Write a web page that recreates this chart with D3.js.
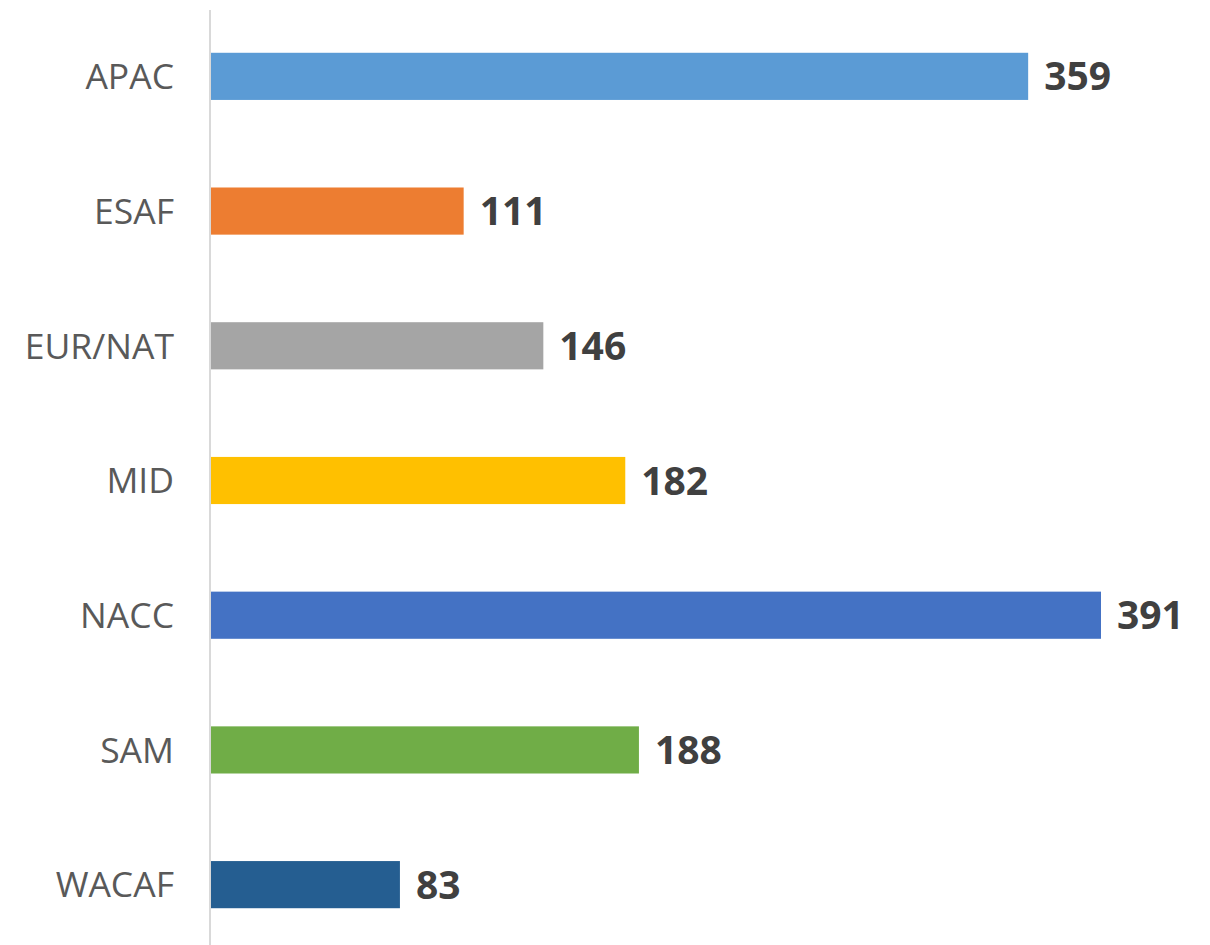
<!DOCTYPE html>
<html>
<head>
<meta charset="utf-8">
<script src="https://cdn.jsdelivr.net/npm/d3@7"></script>
<style>
  body { margin: 0; background: #fff; }
  .region { font-family: "Open Sans", sans-serif; font-size: 35.5px; fill: #595959; }
  .value { font-family: "Open Sans", sans-serif; font-size: 39px; font-weight: bold; fill: #404040; }
</style>
</head>
<body>
<div id="chart"></div>
<script>
var regions = ["APAC", "ESAF", "EUR/NAT", "MID", "NACC", "SAM", "WACAF"];
var counts = [359, 111, 146, 182, 391, 188, 83];
var colors = ["#5b9bd5", "#ed7d31", "#a5a5a5", "#ffc000", "#4472c4", "#70ad47", "#255e91"];

var width = 1210, height = 945,
    left = 211;

var svg = d3.select("#chart").append("svg")
    .attr("width", width)
    .attr("height", height);

var xScale = d3.scaleLinear()
    .domain([0, 391])
    .range([left, 1101]);

var yScale = d3.scaleBand()
    .domain(regions)
    .range([9, 952])
    .paddingInner(0.65)
    .paddingOuter(0.325);

// axis line
svg.append("line")
    .attr("x1", left - 1).attr("x2", left - 1)
    .attr("y1", 10).attr("y2", height)
    .attr("stroke", "#d9d9d9")
    .attr("stroke-width", 2);

var bar = svg.selectAll(".bar")
    .data(regions)
    .enter()
    .append("g");

bar.append("rect")
    .attr("x", xScale(0))
    .attr("y", function (d) { return yScale(d); })
    .attr("width", function (d, i) { return xScale(counts[i]) - xScale(0); })
    .attr("height", yScale.bandwidth())
    .attr("fill", function (d, i) { return colors[i]; });

bar.append("text")
    .attr("class", "region")
    .attr("x", left - 37)
    .attr("y", function (d) { return yScale(d) + yScale.bandwidth() / 2; })
    .attr("dy", "0.36em")
    .attr("text-anchor", "end")
    .text(function (d) { return d; });

bar.append("text")
    .attr("class", "value")
    .attr("x", function (d, i) { return xScale(counts[i]) + 16; })
    .attr("y", function (d) { return yScale(d) + yScale.bandwidth() / 2; })
    .attr("dy", "0.36em")
    .text(function (d, i) { return counts[i]; });
</script>
</body>
</html>
